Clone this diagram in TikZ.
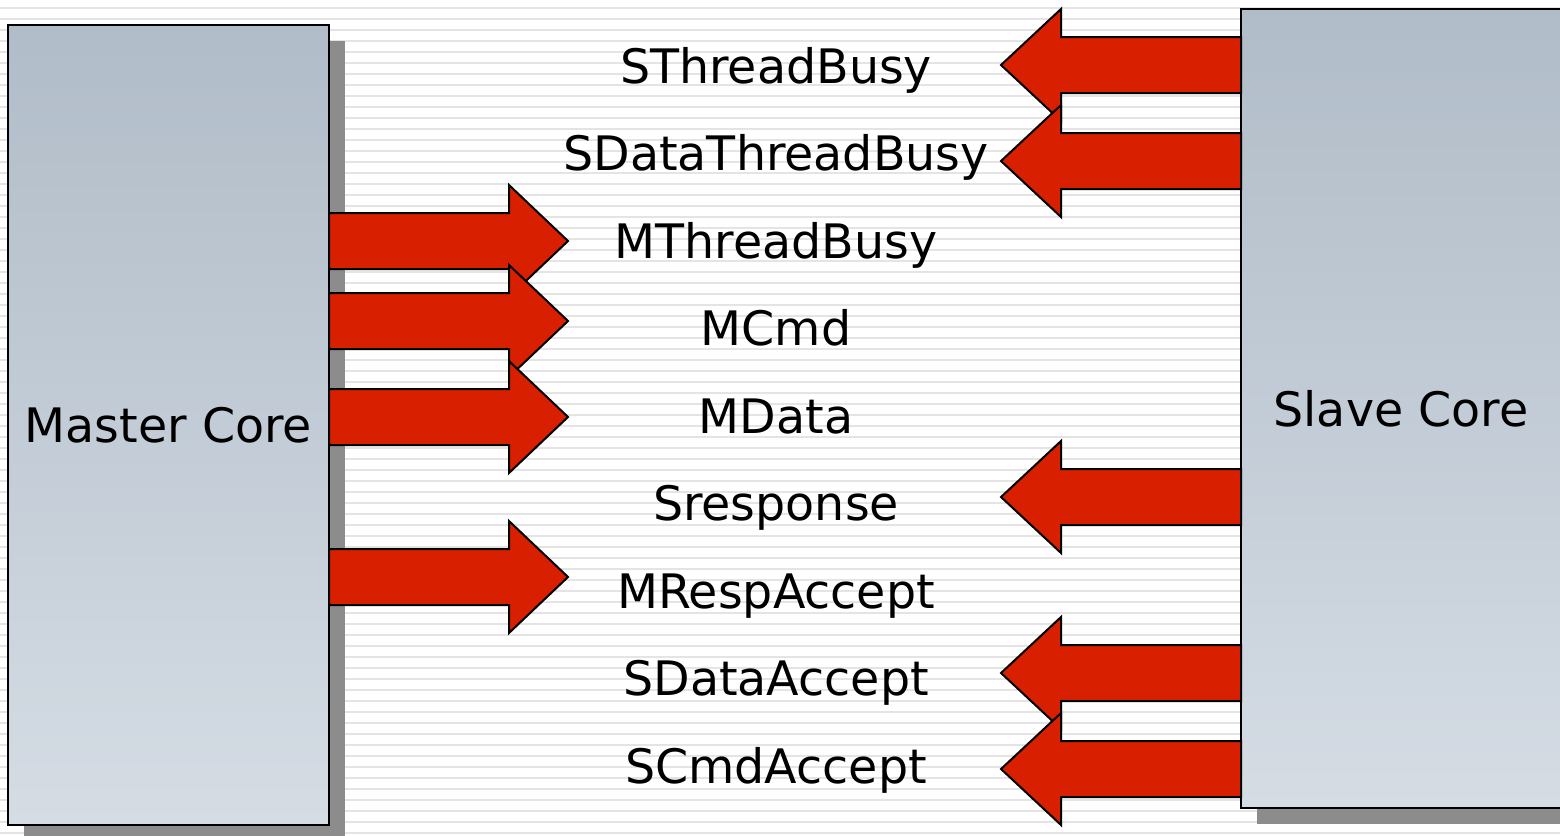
\documentclass[tikz,border=0pt]{standalone}
\usepackage{fontspec}
\setmainfont{DejaVu Sans}
\usetikzlibrary{shadows}
\definecolor{boxtop}{RGB}{176,188,200}
\definecolor{boxbot}{RGB}{213,220,228}
\definecolor{arrred}{RGB}{216,32,0}
\definecolor{shadowgray}{RGB}{140,140,140}
\definecolor{stripegray}{RGB}{228,228,228}
\tikzset{
  corebox/.style={draw=black, line width=2pt, top color=boxtop, bottom color=boxbot,
    inner sep=0pt, font=\fontsize{47.5}{57}\selectfont,
    drop shadow={shadow xshift=16pt, shadow yshift=-16pt, fill=shadowgray, opacity=1}},
  blockarrow/.style={draw=black, line width=2pt, fill=arrred, line join=miter},
  lbl/.style={anchor=base, inner sep=0pt, font=\fontsize{47.5}{57}\selectfont},
  rarr/.pic={\draw[blockarrow] (0,-28) -- (180,-28) -- (180,-56) -- (239,0) -- (180,56) -- (180,28) -- (0,28) -- cycle;},
  larr/.pic={\draw[blockarrow] (0,-28) -- (-180,-28) -- (-180,-56) -- (-240,0) -- (-180,56) -- (-180,28) -- (0,28) -- cycle;}
}
\begin{document}
\begin{tikzpicture}[x=1pt,y=-1pt]
\useasboundingbox (0,0) rectangle (1560,835);
\begin{scope}
\clip (0,0) rectangle (1560,835);
\fill[white] (0,0) rectangle (1560,835);
\foreach \k in {0,...,75} \fill[stripegray] (0,{6.7+11*\k}) rectangle (1560,{9.3+11*\k});
% boxes
\node[corebox, minimum width=321pt, minimum height=800pt] (master) at (168.5,425) {Master Core};
\node[corebox, minimum width=320pt, minimum height=799pt] (slave) at (1401,408.5) {Slave Core};
% master arrows
\pic (mtb) at (329,241) {rarr};
\pic (mcmd) at (329,321) {rarr};
\pic (mdata) at (329,417) {rarr};
\pic (mra) at (329,577) {rarr};
% slave arrows
\pic (stb) at (1241,65) {larr};
\pic (sdtb) at (1241,161) {larr};
\pic (sresp) at (1241,497) {larr};
\pic (sda) at (1241,673) {larr};
\pic (sca) at (1241,769) {larr};
% labels
\node[lbl] (l1) at (776,83) {SThreadBusy};
\node[lbl] (l2) at (776,170.5) {SDataThreadBusy};
\node[lbl] (l3) at (776,258) {MThreadBusy};
\node[lbl] (l4) at (776,345.5) {MCmd};
\node[lbl] (l5) at (776,433) {MData};
\node[lbl] (l6) at (776,520.5) {Sresponse};
\node[lbl] (l7) at (776,608) {MRespAccept};
\node[lbl] (l8) at (776,695.5) {SDataAccept};
\node[lbl] (l9) at (776,783) {SCmdAccept};
\end{scope}
\end{tikzpicture}
\end{document}
